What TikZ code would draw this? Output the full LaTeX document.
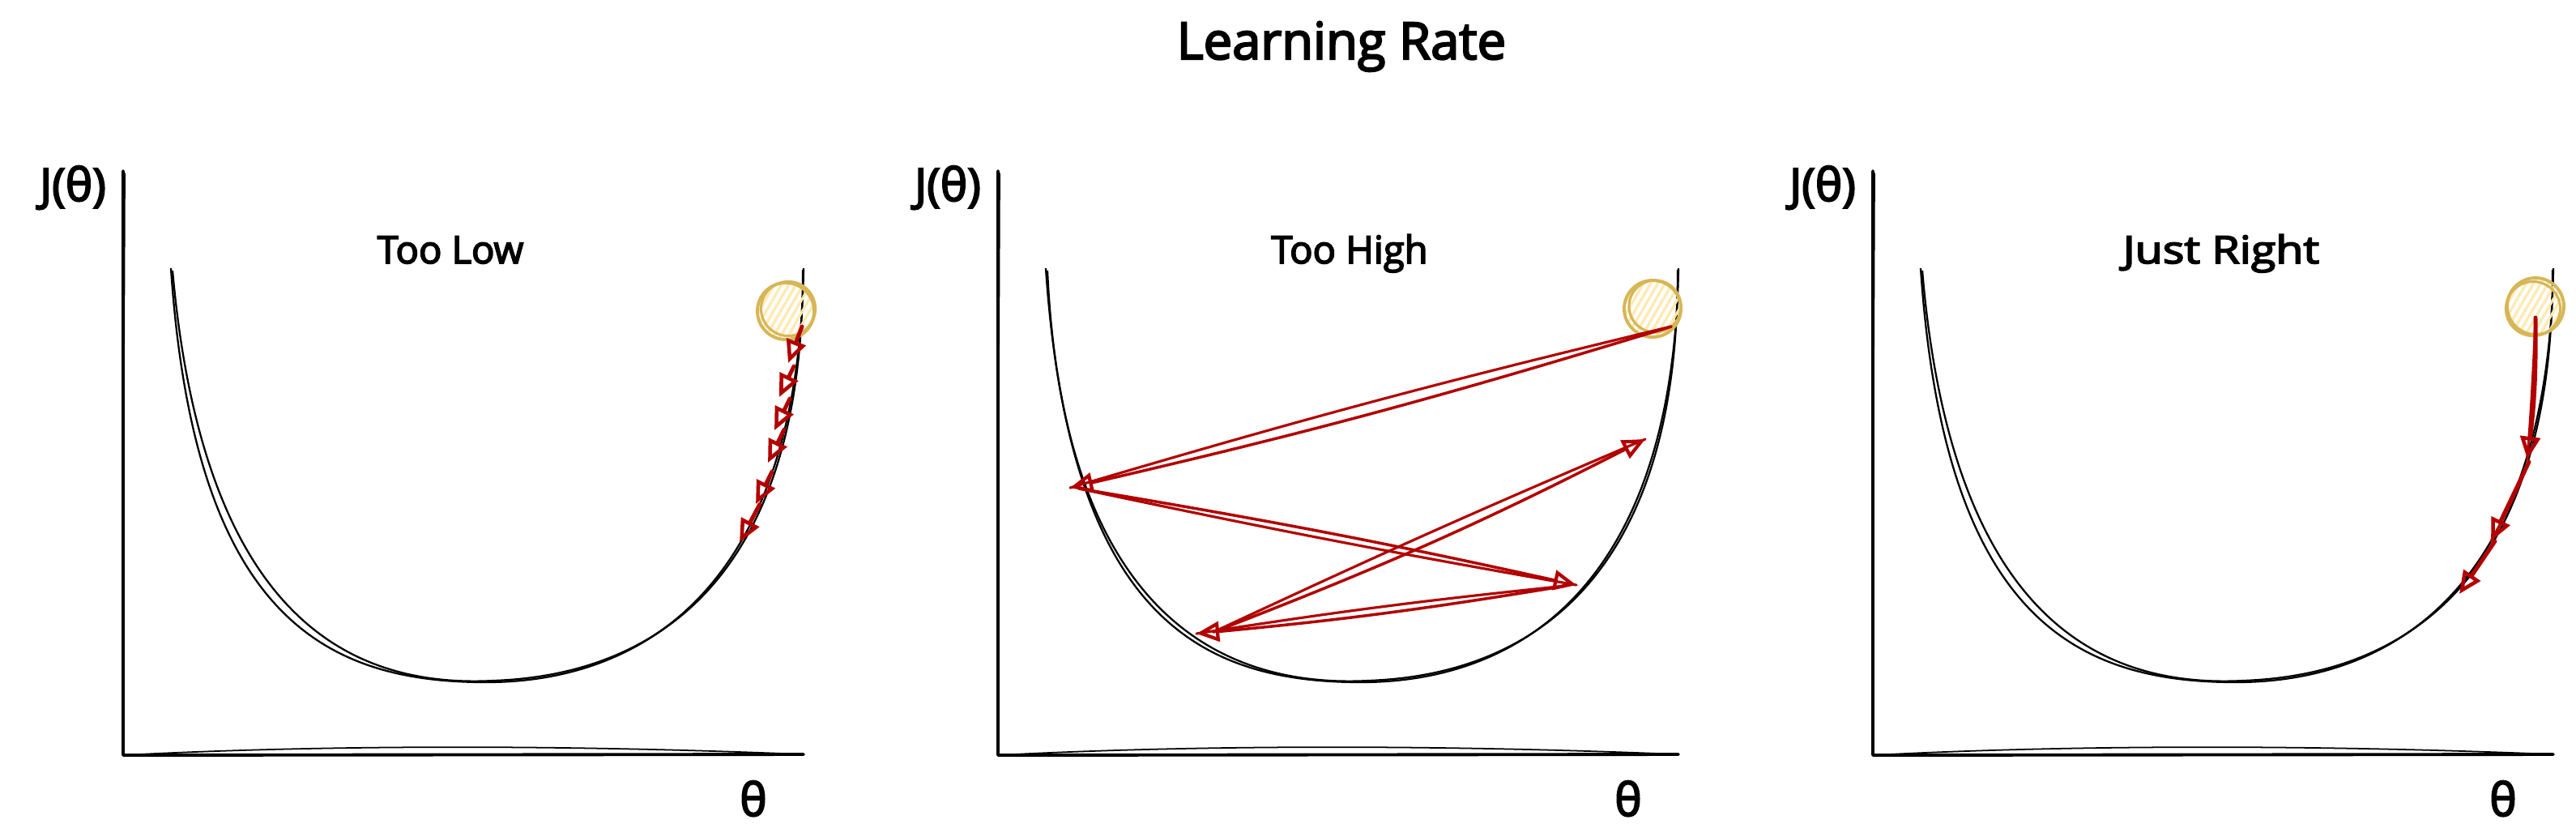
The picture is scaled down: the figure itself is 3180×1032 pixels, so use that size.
\documentclass[tikz,border=0pt]{standalone}
\usepackage{fontspec}
\setmainfont{Open Sans}[FakeBold=3.5]
\usetikzlibrary{arrows.meta,patterns.meta}
\definecolor{arrred}{HTML}{B20000}
\definecolor{ballline}{HTML}{D6B656}
\definecolor{ballfill}{HTML}{FFE9B0}
\newcommand\panelbase[2]{%
  \begin{scope}[shift={(#1,0)}]
    \draw[axis] (152,211) -- (152,932) -- (992,931);
    \draw[axis2] (154,214) -- (151,930);
    \draw[axis2] (152,932) .. controls (400,919) and (700,919) .. (992,931);
    \draw[bowl] (211,331) .. controls (240,760) and (400,842) .. (600,842)
                .. controls (780,842) and (985,740) .. (992,331);
    \draw[bowl] (213,334) .. controls (#2,748) and (420,850) .. (610,840)
                .. controls (800,833) and (992,724) .. (991,333);
  \end{scope}}
\begin{document}
\begin{tikzpicture}[x=0.01cm,y=-0.01cm,
  axis/.style={line width=1.1pt, line cap=round, line join=round},
  axis2/.style={line width=0.5pt, line cap=round},
  bowl/.style={line width=0.65pt},
  gd/.style={draw=arrred, line width=1.4pt, line cap=round,
             -{Triangle[open,length=8pt,width=7pt,line width=1.3pt]}},
  gdd/.style={draw=arrred, line width=1pt, line cap=round,
             -{Triangle[open,length=8pt,width=7pt,line width=1.2pt]}},
  gd2/.style={draw=arrred, line width=0.9pt, line cap=round},
  ball/.style={circle, draw=ballline, line width=1.1pt,
               pattern={Lines[angle=60,distance=2.2pt,line width=0.9pt]},
               pattern color=ballfill, minimum size=0.7cm, inner sep=0pt},
  ballring/.style={draw=ballline, line width=0.9pt},
  ttl/.style={font=\fontsize{18}{20}\selectfont, anchor=base},
  sub/.style={font=\fontsize{13.4}{15}\selectfont, anchor=base},
  lab/.style={font=\fontsize{16}{18}\selectfont, anchor=base}]
\useasboundingbox[fill=white] (0,0) rectangle (3180,1032);

% title
\node[ttl] (title) at (1656,73) {Learning Rate};

% panels
\panelbase{0}{250}
\panelbase{1080}{232}
\panelbase{2160}{248}

% labels
\node[lab] (j1) at (90,248) {J(θ)};
\node[lab] (j2) at (1170,248) {J(θ)};
\node[lab] (j3) at (2250,248) {J(θ)};
\node[lab] (th1) at (930,1007) {θ};
\node[lab] (th2) at (2010,1007) {θ};
\node[lab] (th3) at (3090,1007) {θ};
\node[sub] (s1) at (556,325) {Too Low};
\node[sub] (s2) at (1666,325) {Too High};
\node[sub] (s3) at (2742,325) {\scalebox{1.18}[1]{Just Right}};

% balls
\node[ball] (b1) at (970,384) {};
\draw[ballring] (973,381) circle[radius=0.335cm];
\node[ball] (b2) at (2040,381) {};
\draw[ballring] (2043,378) circle[radius=0.32cm];
\node[ball] (b3) at (3130,378) {};
\draw[ballring] (3127,381) circle[radius=0.335cm];

% panel 1: too low
\coordinate (a1s) at (990,403); \coordinate (a1e) at (973,448);
\coordinate (a2s) at (980,452); \coordinate (a2e) at (962,490);
\coordinate (a3s) at (975,492); \coordinate (a3e) at (956,531);
\coordinate (a4s) at (968,530); \coordinate (a4e) at (948,571);
\coordinate (a5s) at (953,582); \coordinate (a5e) at (933,622);
\coordinate (a6s) at (938,622); \coordinate (a6e) at (913,669);
\foreach \i in {1,...,6} {\draw[gd] (a\i s) -- (a\i e);}

% panel 2: too high
\coordinate (bAs) at (2063,403); \coordinate (bAe) at (1321,602);
\coordinate (bBs) at (1332,603); \coordinate (bBe) at (1946,722);
\coordinate (bCs) at (1933,723); \coordinate (bCe) at (1477,782);
\coordinate (bDs) at (1498,780); \coordinate (bDe) at (2031,542);
\draw[gdd] (bAs) to[bend left=2] (bAe);
\draw[gd2] (bAs) to[bend right=1.5] (bAe);
\draw[gdd] (bBs) to[bend left=1.5] (bBe);
\draw[gd2] (bBs) to[bend right=1] (bBe);
\draw[gdd] (bCs) to[bend left=2] (bCe);
\draw[gd2] (bCs) to[bend right=1.5] (bCe);
\draw[gdd] (bDs) to[bend right=3] (bDe);
\draw[gd2] (bDs) to[bend left=1] (bDe);

% panel 3: just right
\coordinate (c1s) at (3130,392); \coordinate (c1e) at (3120,567);
\coordinate (c2s) at (3122,570); \coordinate (c2e) at (3075,668);
\coordinate (c3s) at (3080,668); \coordinate (c3e) at (3036,733);
\draw[gd] (c1s) to[bend left=4] (c1e);
\draw[gd2] (c1s) to[bend left=1] (c1e);
\draw[gd] (c2s) -- (c2e);
\draw[gd2] (c2s) to[bend left=3] (c2e);
\draw[gd] (c3s) -- (c3e);
\end{tikzpicture}
\end{document}
